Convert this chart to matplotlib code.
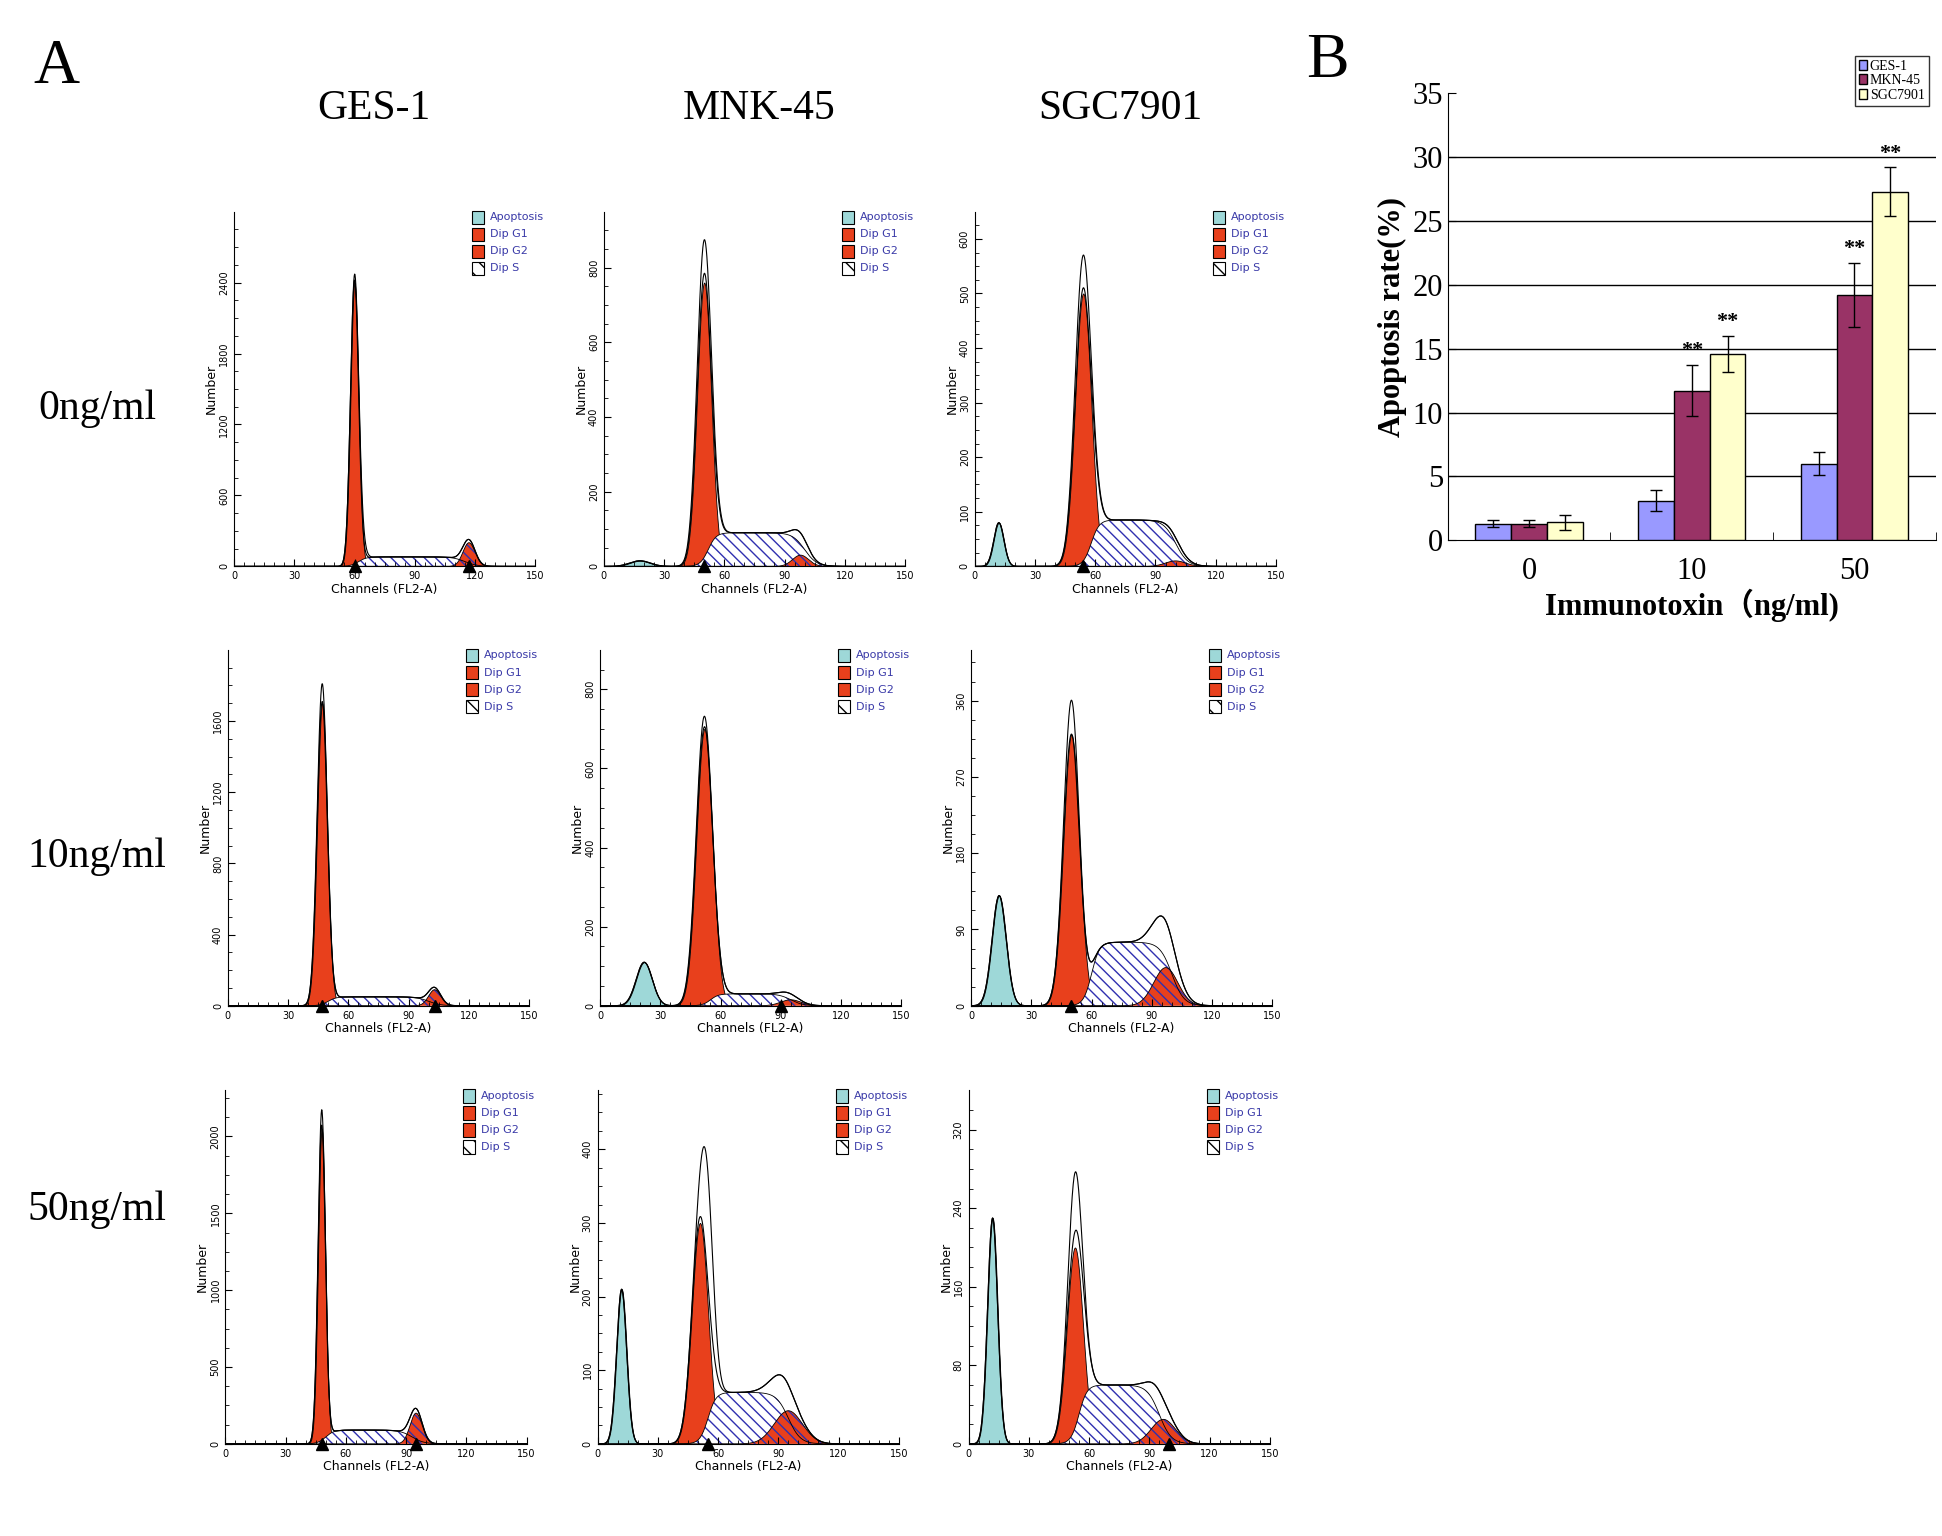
import numpy as np
import matplotlib
matplotlib.use("Agg")
import matplotlib.pyplot as plt
from matplotlib.patches import Rectangle

SERIF = "Liberation Serif"
RED = "#E8401C"; CYAN = "#9ED8D8"; LEGBLUE = "#3a3aa8"

cols = ["GES-1", "MNK-45", "SGC7901"]
rows = ["0ng/ml", "10ng/ml", "50ng/ml"]

# histogram component parameters per panel (row, col)
ymaxs = [[3000, 950, 650], [2000, 900, 420], [2300, 480, 360]]
tsteps = [[600, 200, 100], [400, 200, 90], [500, 100, 80]]
apop = [[None, (18, 15, 5), (12, 80, 2.5)],
        [None, (22, 110, 4), (14, 130, 3.5)],
        [None, (12, 210, 2.5), (12, 230, 2.5)]]
g1 = [[(60, 2400, 2.0), (50, 760, 3.5), (54, 500, 4)],
      [(47, 1700, 2.5), (52, 700, 4), (50, 320, 4)],
      [(48, 2050, 1.8), (51, 300, 4), (53, 200, 4)]]
g2 = [[(117, 200, 3), (98, 30, 4), (100, 10, 5)],
      [(103, 90, 3), (95, 15, 5), (97, 45, 6)],
      [(95, 200, 3), (95, 45, 7), (97, 25, 6)]]
sph = [[(62, 115, 80), (52, 100, 90), (58, 100, 85)],
       [(50, 100, 50), (55, 95, 30), (60, 100, 75)],
       [(50, 93, 90), (55, 95, 70), (55, 95, 60)]]
extra = [[(63, 150, 2), (50, 90, 4), (54, 60, 4)],
         [(47, 100, 2.5), (50, 30, 4), (50, 40, 3)],
         [(48, 100, 1.8), (55, 150, 3), (53, 60, 3)]]
markers = [[[60, 117], [50], [54]], [[47, 103], [90], [50]], [[48, 95], [55], [100]]]

# panel B data
groups = ["0", "10", "50"]
ges = [1.3, 3.1, 6.0]; ges_err = [0.3, 0.8, 0.9]
mkn = [1.3, 11.7, 19.2]; mkn_err = [0.3, 2.0, 2.5]
sgc = [1.4, 14.6, 27.3]; sgc_err = [0.6, 1.4, 1.9]

W, H = 1560.0, 1234.0
fig = plt.figure(figsize=(19.42, 15.36), dpi=100)

def fr(x0, y0, x1, y1):
    return [x0 / W, 1 - y1 / H, (x1 - x0) / W, (y1 - y0) / H]

fig.text(45 / W, 1 - 55 / H, "A", fontsize=46, family=SERIF, ha="center", va="center")
fig.text(1066 / W, 1 - 50 / H, "B", fontsize=46, family=SERIF, ha="center", va="center")
for i, c in enumerate(cols):
    fig.text([300, 610, 900][i] / W, 1 - 87 / H, c, fontsize=30, family=SERIF, ha="center", va="center")
for j, r in enumerate(rows):
    fig.text(78 / W, 1 - [328, 688, 972][j] / H, r, fontsize=30, family=SERIF, ha="center", va="center")

x = np.linspace(0, 150, 1500)
def gauss(p):
    if p is None:
        return np.zeros_like(x)
    c, h, s = p
    return h * np.exp(-0.5 * ((x - c) / s) ** 2)
def sfun(p):
    a, b, h = p
    return h / (1 + np.exp(-(x - a) / 2.0)) / (1 + np.exp((x - b) / 3.0))

xs = [[188, 485, 783], [183, 482, 780], [181, 480, 778]]
ys = [(170, 455), (522, 808), (876, 1160)]
for r in range(3):
    for c in range(3):
        ax = fig.add_axes(fr(xs[r][c], ys[r][0], xs[r][c] + 242, ys[r][1]))
        A = gauss(apop[r][c]); G1 = gauss(g1[r][c]); G2 = gauss(g2[r][c]); S = sfun(sph[r][c])
        tot = A + G1 + G2 + S
        data = tot + gauss(extra[r][c])
        ax.fill_between(x, 0, A, color=CYAN, ec="k", lw=0.6)
        ax.fill_between(x, 0, G1, color=RED, ec="k", lw=0.6)
        ax.fill_between(x, 0, S, facecolor="white", edgecolor="#3030b0", hatch="\\\\\\", lw=0)
        ax.fill_between(x, 0, G2, facecolor=RED, edgecolor="#3030b0", hatch="\\\\\\", lw=0)
        ax.plot(x, G2, color="k", lw=0.6)
        ax.plot(x, S, color="k", lw=0.6)
        ax.plot(x, tot, color="k", lw=0.8)
        ax.plot(x, data, color="k", lw=0.8)
        for m in markers[r][c]:
            ax.plot([m], [0], marker="^", color="k", ms=8, clip_on=False)
        ax.set_xlim(0, 150); ax.set_ylim(0, ymaxs[r][c])
        for s_ in ["top", "right"]:
            ax.spines[s_].set_visible(False)
        ax.set_xticks(range(0, 151, 30))
        ax.set_xticks(range(0, 151, 5), minor=True)
        st = tsteps[r][c]
        yt = list(range(0, int(ymaxs[r][c] * 0.95), st))
        ax.set_yticks(yt)
        ax.set_yticklabels([str(v) for v in yt], rotation=90, va="center")
        ax.set_yticks(np.arange(0, ymaxs[r][c], st / 4), minor=True)
        ax.tick_params(labelsize=7, length=5, direction="in")
        ax.tick_params(which="minor", length=3, direction="in")
        ax.set_xlabel("Channels (FL2-A)", fontsize=9, labelpad=1)
        ax.set_ylabel("Number", fontsize=9, labelpad=1)
        names = ["Apoptosis", "Dip G1", "Dip G2", "Dip S"]
        fcs = [CYAN, RED, RED, "white"]
        for k in range(4):
            yy = 0.965 - k * 0.048
            ax.add_patch(Rectangle((0.79, yy), 0.04, 0.038, transform=ax.transAxes,
                                   fc=fcs[k], ec="k", lw=0.8,
                                   hatch="\\\\" if k == 3 else None, clip_on=False))
            ax.text(0.85, yy + 0.019, names[k], transform=ax.transAxes, fontsize=8,
                    color=LEGBLUE, va="center")

# Panel B
axb = fig.add_axes(fr(1163, 75, 1555, 434))
n = np.arange(3); w = 0.22
data_b = [(ges, ges_err, "#9999FF", "GES-1"), (mkn, mkn_err, "#993366", "MKN-45"),
          (sgc, sgc_err, "#FFFFCC", "SGC7901")]
for k, (v, e, col, lab) in enumerate(data_b):
    axb.bar(n + (k - 1) * w, v, w, color=col, ec="k", lw=1, label=lab, zorder=3,
            yerr=e, capsize=4, error_kw=dict(lw=1, ecolor="k", zorder=4))
for gy in range(5, 31, 5):
    axb.axhline(gy, color="k", lw=1, zorder=1)
stars = [(1, 1, mkn[1] + mkn_err[1]), (1, 2, sgc[1] + sgc_err[1]),
         (2, 1, mkn[2] + mkn_err[2]), (2, 2, sgc[2] + sgc_err[2])]
for g, k, top in stars:
    axb.text(g + (k - 1) * w, top + 0.3, "**", ha="center", va="bottom", fontsize=16,
             family=SERIF, fontweight="bold")
axb.set_xlim(-0.5, 2.5); axb.set_ylim(0, 35)
axb.set_yticks(range(0, 36, 5))
axb.set_xticks(n); axb.set_xticklabels(groups)
axb.set_xticks([0.5, 1.5, 2.5], minor=True)
axb.tick_params(axis="x", which="major", length=0, pad=12)
axb.tick_params(axis="x", which="minor", length=6, direction="in")
axb.tick_params(axis="y", length=6, direction="in")
for t in axb.get_xticklabels() + axb.get_yticklabels():
    t.set_family(SERIF); t.set_fontsize(22)
for s_ in ["top", "right"]:
    axb.spines[s_].set_visible(False)
axb.set_ylabel("Apoptosis rate(%)", family=SERIF, fontsize=22, fontweight="bold")
axb.set_xlabel("Immunotoxin（ng/ml)", family=[SERIF, "Noto Sans CJK SC"], fontsize=22,
               fontweight="bold", labelpad=2)
axb.legend(loc="upper right", bbox_to_anchor=(1.0, 1.1), prop=dict(family=SERIF, size=10),
           frameon=True, fancybox=False, edgecolor="k", handlelength=0.6,
           handletextpad=0.2, borderpad=0.3, labelspacing=0.1)

fig.savefig("out.png", dpi=100, facecolor="white")
